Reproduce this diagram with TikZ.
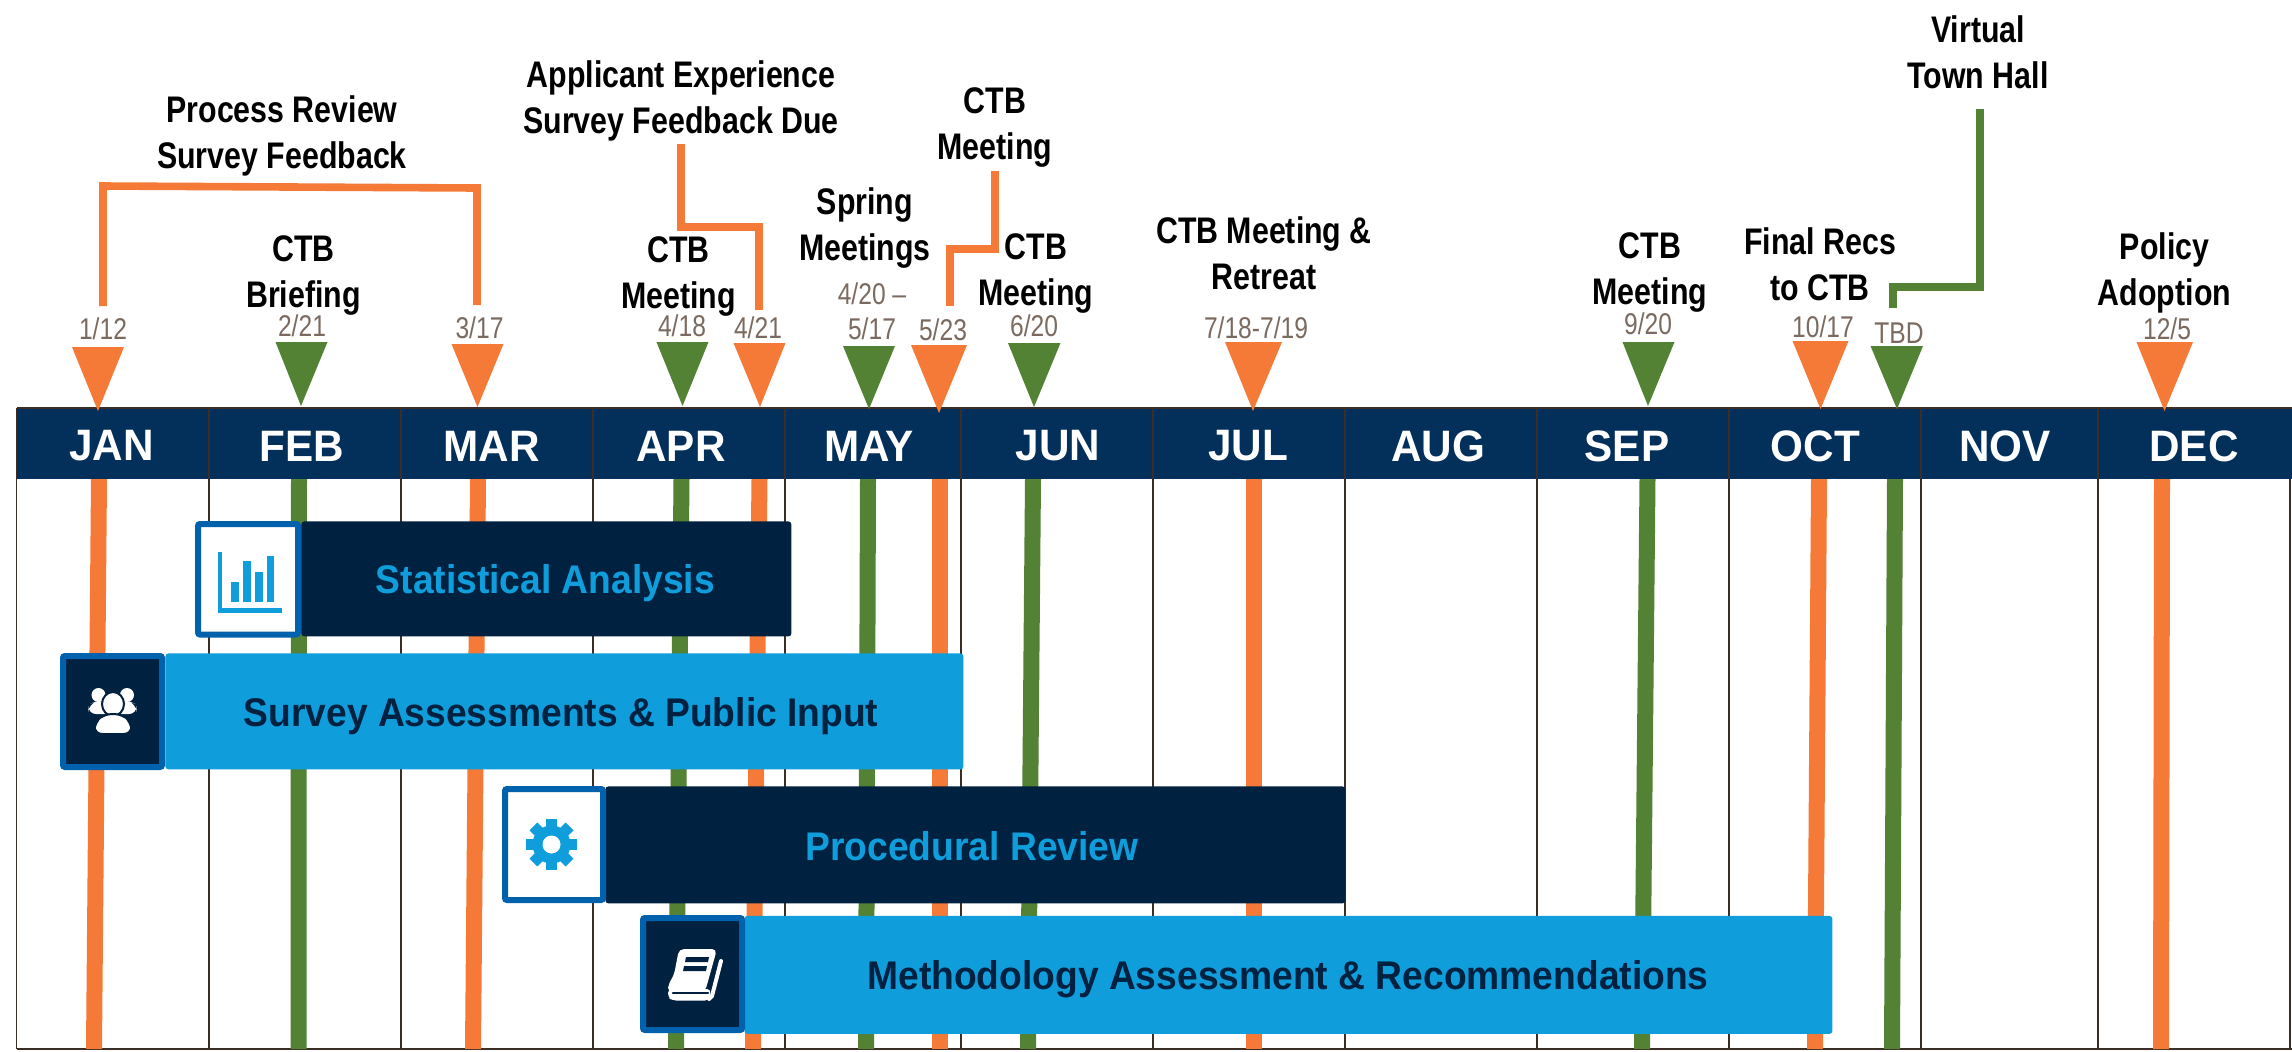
\documentclass[tikz,border=0pt]{standalone}
\usepackage{fontspec}
\setmainfont{Liberation Sans}
\newfontfamily\labfont[FakeStretch=0.82]{Liberation Sans}
\newfontfamily\datefont[FakeStretch=0.82]{Liberation Sans}
\newfontfamily\barfont[FakeStretch=0.93]{Liberation Sans}
\newfontfamily\monfont[FakeStretch=0.96]{Liberation Sans}
\definecolor{orangeM}{HTML}{F57A38}
\definecolor{greenM}{HTML}{548235}
\definecolor{headBlue}{HTML}{03305A}
\definecolor{darkBar}{HTML}{002140}
\definecolor{lightBar}{HTML}{0F9EDB}
\definecolor{boxEdge}{HTML}{0062AD}
\definecolor{dateCol}{HTML}{7B6A60}
\definecolor{rule}{HTML}{3A2E26}
\newcommand{\ls}{\rule[-6pt]{0pt}{17pt}}
\tikzset{
  lab/.style={inner sep=0pt,align=center,text=black,font=\labfont\bfseries\fontsize{18.5}{23}\selectfont},
  datel/.style={inner sep=0pt,text=dateCol,font=\datefont\fontsize{15}{18}\selectfont},
  monthl/.style={inner sep=0pt,text=white,font=\monfont\bfseries\fontsize{22}{26}\selectfont},
  barl/.style={inner sep=0pt,font=\barfont\bfseries\fontsize{20}{24}\selectfont},
  link/.style={line width=3.8pt,line join=miter},
  riser/.style={line width=8pt},
  gridl/.style={rule,line width=0.9pt},
  iconbox/.style={draw=boxEdge,line width=3pt,rounded corners=1pt},
}
\newcommand{\marker}[7]{% name colour xl xr ytop xtip ytip
  \coordinate (#1) at (#6,#7);
  \fill[#2] (#3,#5) -- (#4,#5) -- (#1) -- cycle;
}
\newcommand{\riserline}[5]{% name colour xtop xbottom ybottom
  \coordinate (#1t) at (#3,479);
  \coordinate (#1b) at (#4,#5);
  \draw[riser,#2] (#1t) -- (#1b);
}
\begin{document}
\begin{tikzpicture}[x=0.5pt,y=-0.5pt]
\useasboundingbox (0,0) rectangle (2292,1051);
\fill[white] (0,0) rectangle (2292,1051);

% grid
\foreach \gx/\gn in {16.5/a,209/b,401/c,593/d,785/e,961/f,1153/g,1345/h,1537/i,1729/j,1921/k,2098/l,2290/m}{
  \coordinate (g\gn t) at (\gx,408);
  \coordinate (g\gn b) at (\gx,1049);
  \draw[gridl] (g\gn t) -- (g\gn b);
}
\coordinate (bl) at (16.5,1049);
\coordinate (br) at (2292,1049);
\draw[rule,line width=1.2pt] (bl) -- (br);

% risers
\riserline{r1}{orangeM}{99}{94}{1049}
\riserline{r2}{greenM}{299}{298.5}{1049}
\riserline{r3}{orangeM}{478}{473}{1049}
\riserline{r4}{greenM}{681.5}{676}{1049}
\riserline{r5}{orangeM}{759.5}{753}{1049}
\riserline{r6}{greenM}{868}{866}{1049}
\riserline{r7}{orangeM}{940}{940}{1049}
\riserline{r8}{greenM}{1033}{1028}{1049}
\riserline{r9}{orangeM}{1254}{1254}{1049}
\riserline{r10}{greenM}{1647.5}{1642}{1049}
\riserline{r11}{orangeM}{1819}{1815}{1049}
\riserline{r12}{greenM}{1895}{1892}{1049}
\riserline{r13}{orangeM}{2162}{2161}{1049}

% header band
\node[fill=headBlue,inner sep=0pt,minimum width=1137.75pt,minimum height=35.5pt,anchor=north west] (head) at (16.5,408) {};
\coordinate (hl) at (16.5,408);
\coordinate (hr) at (2292,408);
\draw[rule,line width=1.2pt] (hl) -- (hr);
\foreach \gx in {209,401,593,785,961,1153,1345,1537,1729,1921,2098}{
  \draw[gridl] (\gx,408) -- (\gx,479);
}
\node[monthl] (jan) at (111.5,446) {JAN};
\node[monthl] (feb) at (302,446) {FEB};
\node[monthl] (mar) at (491.5,446) {MAR};
\node[monthl] (apr) at (681,446) {APR};
\node[monthl] (may) at (869,446) {MAY};
\node[monthl] (jun) at (1058,446) {JUN};
\node[monthl] (jul) at (1248,446) {JUL};
\node[monthl] (aug) at (1438,446) {AUG};
\node[monthl] (sep) at (1627,446) {SEP};
\node[monthl] (oct) at (1815.5,446) {OCT};
\node[monthl] (nov) at (2005,446) {NOV};
\node[monthl] (dec) at (2194,446) {DEC};

% markers
\marker{m1}{orangeM}{72}{124}{347}{98}{411}
\marker{m2}{greenM}{275.5}{327.5}{342}{301}{406}
\marker{m3}{orangeM}{451.5}{503.5}{344}{477.5}{407}
\marker{m4}{greenM}{656.5}{708.5}{342}{682.5}{406}
\marker{m5}{orangeM}{733.5}{785.5}{343}{760}{407}
\marker{m6}{greenM}{843}{895}{346}{869}{409}
\marker{m7}{orangeM}{911}{967}{345}{939}{413}
\marker{m8}{greenM}{1008}{1060.5}{343}{1034}{407}
\marker{m9}{orangeM}{1225}{1282}{342}{1253}{411}
\marker{m10}{greenM}{1622.5}{1674.5}{342}{1648}{406}
\marker{m11}{orangeM}{1792.5}{1848.5}{341}{1820.5}{409}
\marker{m12}{greenM}{1870.5}{1923}{346}{1897}{409}
\marker{m13}{orangeM}{2136.5}{2193}{342}{2164.5}{411}

% dates
\node[datel] (d1) at (103,329) {1/12};
\node[datel] (d2) at (302,326) {2/21};
\node[datel] (d3) at (479.5,328) {3/17};
\node[datel] (d4) at (682,326) {4/18};
\node[datel] (d5) at (758,328) {4/21};
\node[datel] (d6a) at (872,294) {4/20 –};
\node[datel] (d6b) at (872,329) {5/17};
\node[datel] (d7) at (943,330) {5/23};
\node[datel] (d8) at (1034,326) {6/20};
\node[datel] (d9) at (1256,328) {7/18-7/19};
\node[datel] (d10) at (1648,324) {9/20};
\node[datel] (d11) at (1823,327) {10/17};
\node[datel] (d12) at (1899,333) {TBD};
\node[datel] (d13) at (2167,329) {12/5};

% labels
\node[lab] (l1) at (282,138) {\ls Process Review\\\ls Survey Feedback};
\node[lab] (l2) at (303.5,277.5) {\ls CTB\\\ls Briefing};
\node[lab] (l3) at (678.5,278.5) {\ls CTB\\\ls Meeting};
\node[lab] (l4) at (681,103) {\ls Applicant Experience\\\ls Survey Feedback Due};
\node[lab] (l5) at (865,230.5) {\ls Spring\\\ls Meetings};
\node[lab] (l6) at (995,130) {\ls CTB\\\ls Meeting};
\node[lab] (l7) at (1036,275.5) {\ls CTB\\\ls Meeting};
\node[lab] (l8) at (1264,259) {\ls CTB Meeting \&\\\ls Retreat};
\node[lab] (l9) at (1650,274.5) {\ls CTB\\\ls Meeting};
\node[lab] (l10) at (1820,270) {\ls Final Recs\\\ls to CTB};
\node[lab] (l11) at (1978,58) {\ls Virtual\\\ls Town Hall};
\node[lab] (l12) at (2164.5,275) {\ls Policy\\\ls Adoption};

% call-out connectors
\coordinate (c1a) at (103,306); \coordinate (c1c) at (477,188); \coordinate (c1d) at (477,305);
\draw[link,orangeM] (c1a) -- (103,186) -- (c1c) -- (c1d);
\coordinate (c2a) at (681,144); \coordinate (c2b) at (759,310);
\draw[link,orangeM] (c2a) -- (681,227) -- (759,227) -- (c2b);
\coordinate (c3a) at (995,171); \coordinate (c3b) at (950,306);
\draw[link,orangeM] (c3a) -- (995,249) -- (950,249) -- (c3b);
\coordinate (c4a) at (1980,109); \coordinate (c4b) at (1893,308);
\draw[link,greenM] (c4a) -- (1980,287) -- (1893,287) -- (c4b);

% bars
\node[fill=darkBar,rounded corners=1.5pt,inner sep=0pt,minimum width=245pt,minimum height=57.5pt,anchor=north west] (bar1) at (301,521) {};
\node[iconbox,fill=white,inner sep=0pt,minimum width=50pt,minimum height=55.25pt,anchor=north west] (box1) at (195,521) {};
\node[barl,text=lightBar] (t1) at (545.5,583) {Statistical Analysis};

\node[fill=lightBar,rounded corners=1.5pt,inner sep=0pt,minimum width=399pt,minimum height=58pt,anchor=north west] (bar2) at (165,653) {};
\node[iconbox,fill=darkBar,inner sep=0pt,minimum width=49.5pt,minimum height=55.5pt,anchor=north west] (box2) at (60,653) {};
\node[barl,text=darkBar] (t2) at (561,716) {Survey Assessments \& Public Input};

\node[fill=darkBar,rounded corners=1.5pt,inner sep=0pt,minimum width=370pt,minimum height=58.5pt,anchor=north west] (bar3) at (605,786) {};
\node[iconbox,fill=white,inner sep=0pt,minimum width=49pt,minimum height=55.5pt,anchor=north west] (box3) at (502,786) {};
\node[barl,text=lightBar] (t3) at (972,846) {Procedural Review};

\node[fill=lightBar,rounded corners=1.5pt,inner sep=0pt,minimum width=544pt,minimum height=59pt,anchor=north west] (bar4) at (744,915.5) {};
\node[iconbox,fill=darkBar,inner sep=0pt,minimum width=49.5pt,minimum height=56pt,anchor=north west] (box4) at (640,915) {};
\node[barl,text=darkBar] (t4) at (1288,979) {Methodology Assessment \& Recommendations};

% chart icon
\fill[lightBar] (218,552) rectangle (221.5,613);
\fill[lightBar] (218,607.5) rectangle (282,613);
\fill[lightBar] (230.5,582) rectangle (238.5,602);
\fill[lightBar] (243,561) rectangle (250.5,602);
\fill[lightBar] (255,572) rectangle (262.5,602);
\fill[lightBar] (267,556) rectangle (274,602);

% people icon
\fill[white] (98.5,695) circle (7);
\fill[white] (127,695) circle (7);
\fill[white,rounded corners=4pt] (88,714) -- (89,704) -- (98,701) -- (128,701) -- (136,704) -- (137,714) -- cycle;
\draw[darkBar,line width=1pt,fill=white] (113,704) ellipse (11 and 12);
\draw[darkBar,line width=1pt,fill=white,rounded corners=4pt] (94,734) -- (95,722) -- (104,714) -- (122,714) -- (131,722) -- (132,734) -- cycle;

% gear icon
\fill[lightBar] (551.5,844.5) circle (19);
\foreach \ang in {0,45,...,315}{
  \fill[lightBar,rotate around={\ang:(551.5,844.5)}] (546,819) rectangle (557,832);
}
\fill[white] (551.5,844.5) circle (9);

% book icon
\fill[white,rounded corners=2.5pt] (679,949) -- (717,949) -- (705,992) -- (668,992) -- (668,985) -- (674,975) -- cycle;
\fill[white,rounded corners=2pt] (668,989) -- (711,989) -- (709,1000.5) -- (672,1000.5) -- (668,997) -- cycle;
\draw[darkBar,line width=1.1pt,line cap=round] (673,993) -- (708,993);
\draw[white,line width=2pt,line cap=round] (721,961) -- (712,996) -- (709,999);
\fill[darkBar] (686,957) -- (709,957) -- (708,962) -- (685,962) -- cycle;
\fill[darkBar] (684,966) -- (707,966) -- (706,971) -- (683,971) -- cycle;
\end{tikzpicture}
\end{document}
